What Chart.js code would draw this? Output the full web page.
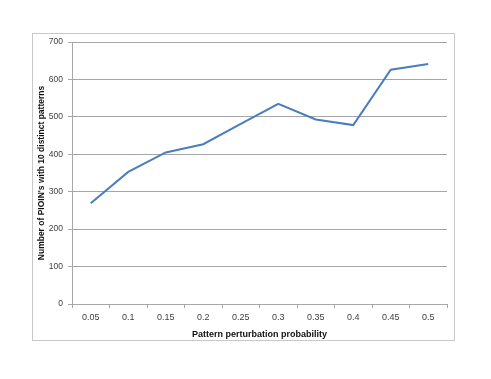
<!DOCTYPE html>
<html><head><meta charset="utf-8">
<script src="https://cdn.jsdelivr.net/npm/chart.js@4/dist/chart.umd.min.js"></script>
<style>html,body{margin:0;padding:0;background:#fff}#wrap{width:491px;height:379px}</style>
</head><body><div id="wrap"><canvas id="c" width="491" height="379"></canvas></div>
<script>
const categories = ["0.05","0.1","0.15","0.2","0.25","0.3","0.35","0.4","0.45","0.5"];
const pioinCounts = [269, 353, 405, 427, 481, 535, 493, 478, 626, 641];
const yTitle = "Number of PIOIN's with 10 distinct patterns";
const xTitle = "Pattern perturbation probability";

const FONT = "'Liberation Sans Narrow','Liberation Sans',Arial,sans-serif";
const frame = {
  id: 'frame',
  beforeDraw(chart) {
    const ctx = chart.ctx;
    ctx.save();
    ctx.fillStyle = '#fff';
    ctx.fillRect(0, 0, chart.width, chart.height);
    ctx.strokeStyle = '#c8c8c8';
    ctx.lineWidth = 1;
    ctx.strokeRect(32.5, 33.5, 422, 307);
    ctx.restore();
  }
};

new Chart(document.getElementById('c'), {
  type: 'line',
  data: {
    labels: categories,
    datasets: [{
      data: pioinCounts,
      borderColor: '#4a7ebb',
      borderWidth: 2,
      pointRadius: 0,
      tension: 0,
      fill: false
    }]
  },
  options: {
    responsive: false,
    animation: false,
    devicePixelRatio: 1,
    layout: { padding: { left: 36, right: 44, top: 42, bottom: 39 } },
    plugins: { legend: { display: false }, tooltip: { enabled: false } },
    scales: {
      x: {
        offset: true,
        grid: { offset: true, drawOnChartArea: false, color: '#a6a6a6', tickLength: 4, tickColor: '#a6a6a6' },
        border: { color: '#a6a6a6' },
        ticks: { color: '#404040', font: { family: FONT, size: 9 }, padding: 4, maxRotation: 0 },
        title: { display: true, text: xTitle, color: '#111', font: { family: FONT, size: 9, weight: 'bold' }, padding: { top: 5, bottom: 0 } },
        afterFit(s) { s.height = 36; }
      },
      y: {
        min: 0, max: 700,
        grid: { color: '#a6a6a6', tickLength: 4, tickColor: '#a6a6a6' },
        border: { color: '#a6a6a6' },
        ticks: { stepSize: 100, color: '#404040', font: { family: FONT, size: 8.5 }, padding: 5 },
        title: { display: true, text: yTitle, color: '#111', font: { family: FONT, size: 8.5, weight: 'bold' }, padding: { top: 1, bottom: 0 } },
        afterFit(s) { s.width = 36; }
      }
    }
  },
  plugins: [frame]
});
</script></body></html>
